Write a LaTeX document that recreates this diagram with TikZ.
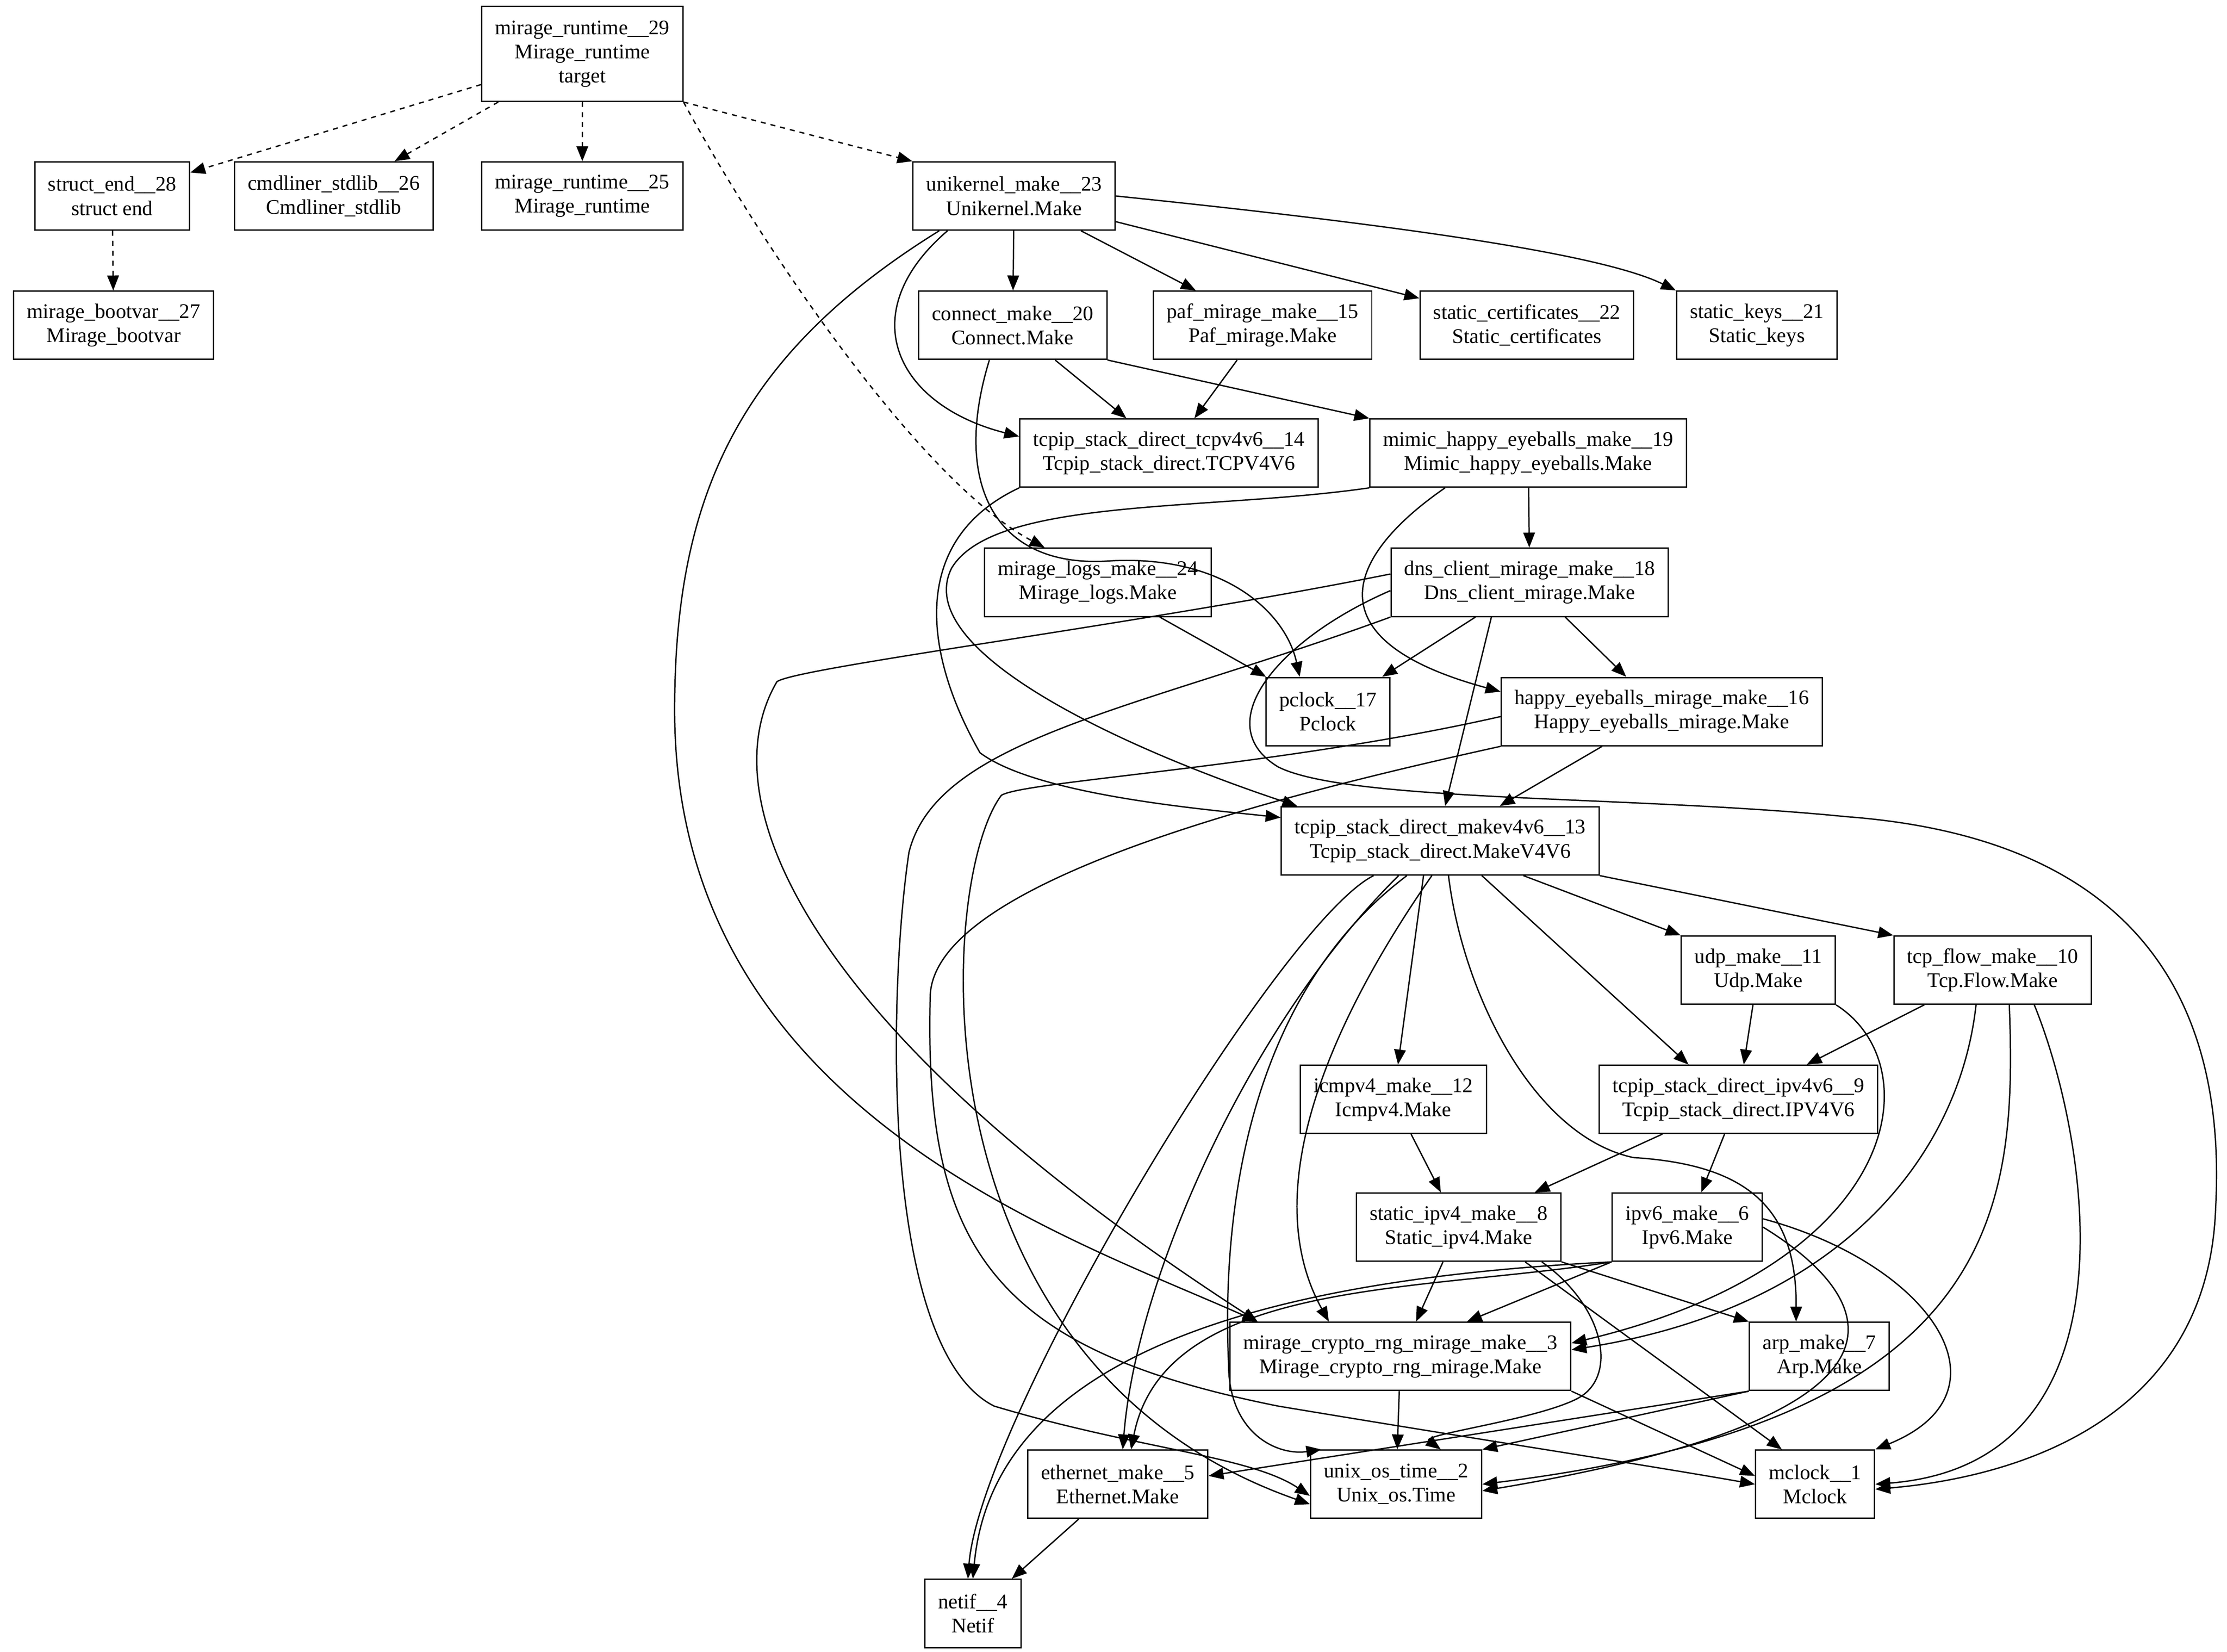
\documentclass[tikz,border=0pt]{standalone}
\usepackage{fontspec}
\setmainfont{Liberation Serif}
\usetikzlibrary{arrows.meta}
\tikzset{
  box/.style={draw, line width=0.8pt, align=center, inner xsep=8pt, minimum height=41pt,
    font=\fontsize{12.5}{14.5}\selectfont},
  dep/.style={line width=0.8pt, -{Triangle[length=9pt,width=7pt]}},
}
\begin{document}
\begin{tikzpicture}[x=0.03cm,y=-0.03cm]
  \useasboundingbox (0,0) rectangle (1568,1163);
  % modules
  \node[box, minimum height=57pt] (mr29) at (410,38) {mirage\_runtime\_\_29\\Mirage\_runtime\\target};
  \node[box] (se28) at (79,138) {struct\_end\_\_28\\struct end};
  \node[box] (cs26) at (235,138) {cmdliner\_stdlib\_\_26\\Cmdliner\_stdlib};
  \node[box] (mr25) at (410,138) {mirage\_runtime\_\_25\\Mirage\_runtime};
  \node[box] (uk23) at (714,138) {unikernel\_make\_\_23\\Unikernel.Make};
  \node[box] (mb27) at (80,229) {mirage\_bootvar\_\_27\\Mirage\_bootvar};
  \node[box] (cm20) at (713,229) {connect\_make\_\_20\\Connect.Make};
  \node[box] (pm15) at (889,229) {paf\_mirage\_make\_\_15\\Paf\_mirage.Make};
  \node[box] (sc22) at (1075,229) {static\_certificates\_\_22\\Static\_certificates};
  \node[box] (sk21) at (1237,229) {static\_keys\_\_21\\Static\_keys};
  \node[box] (tc14) at (823,319) {tcpip\_stack\_direct\_tcpv4v6\_\_14\\Tcpip\_stack\_direct.TCPV4V6};
  \node[box] (mh19) at (1076,319) {mimic\_happy\_eyeballs\_make\_\_19\\Mimic\_happy\_eyeballs.Make};
  \node[box] (ml24) at (773,410) {mirage\_logs\_make\_\_24\\Mirage\_logs.Make};
  \node[box] (dc18) at (1077,410) {dns\_client\_mirage\_make\_\_18\\Dns\_client\_mirage.Make};
  \node[box] (pk17) at (935,501) {pclock\_\_17\\Pclock};
  \node[box] (hb16) at (1170,501) {happy\_eyeballs\_mirage\_make\_\_16\\Happy\_eyeballs\_mirage.Make};
  \node[box] (ts13) at (1014,592) {tcpip\_stack\_direct\_makev4v6\_\_13\\Tcpip\_stack\_direct.MakeV4V6};
  \node[box] (ud11) at (1238,683) {udp\_make\_\_11\\Udp.Make};
  \node[box] (tf10) at (1403,683) {tcp\_flow\_make\_\_10\\Tcp.Flow.Make};
  \node[box] (ic12) at (981,774) {icmpv4\_make\_\_12\\Icmpv4.Make};
  \node[box] (ip9) at (1224,774) {tcpip\_stack\_direct\_ipv4v6\_\_9\\Tcpip\_stack\_direct.IPV4V6};
  \node[box] (sv8) at (1027,864) {static\_ipv4\_make\_\_8\\Static\_ipv4.Make};
  \node[box] (iv6) at (1188,864) {ipv6\_make\_\_6\\Ipv6.Make};
  \node[box] (mc3) at (986,955) {mirage\_crypto\_rng\_mirage\_make\_\_3\\Mirage\_crypto\_rng\_mirage.Make};
  \node[box] (ap7) at (1281,955) {arp\_make\_\_7\\Arp.Make};
  \node[box] (ee5) at (787,1045) {ethernet\_make\_\_5\\Ethernet.Make};
  \node[box] (uo2) at (983,1045) {unix\_os\_time\_\_2\\Unix\_os.Time};
  \node[box] (mk1) at (1278,1045) {mclock\_\_1\\Mclock};
  \node[box] (nf4) at (685,1136) {netif\_\_4\\Netif};

  % runtime
  \draw[dep, dashed] (mr29) -- (se28);
  \draw[dep, dashed] (mr29) -- (cs26);
  \draw[dep, dashed] (mr29) -- (mr25);
  \draw[dep, dashed] (mr29.south east) -- (uk23.north west);
  \draw[dep, dashed] (mr29.south east) .. controls (540,180) and (650,340) .. ([xshift=-32pt]ml24.north);
  \draw[dep, dashed] (se28) -- (mb27);

  % unikernel
  \draw[dep] (uk23) -- (cm20);
  \draw[dep] (uk23) -- (pm15);
  \draw[dep] (uk23) -- (sc22);
  \draw[dep] (uk23.east) .. controls (1000,160) and (1130,180) .. (sk21.north west);
  \draw[dep] ([xshift=-40pt]uk23.south) .. controls (600,220) and (630,285) .. ([yshift=10pt]tc14.west);
  \draw[dep] ([xshift=-45pt]uk23.south) .. controls (520,250) and (475,350) .. (475,500)
    .. controls (475,780) and (750,870) .. ([xshift=17pt]mc3.north west);

  % connect
  \draw[dep] (cm20) -- (tc14);
  \draw[dep] (cm20.south east) -- (mh19.north west);
  \draw[dep] ([xshift=-14pt]cm20.south) .. controls (670,340) and (700,400) .. (780,395)
    .. controls (860,390) and (905,430) .. ([xshift=-17pt]pk17.north);
  \draw[dep] (pm15) -- (tc14);
  \draw[dep] (tc14.south west) .. controls (640,380) and (650,460) .. (690,530)
    .. controls (730,560) and (850,570) .. ([yshift=14pt]ts13.west);
  \draw[dep] (mh19.south west) .. controls (850,360) and (700,350) .. (670,400)
    .. controls (640,460) and (800,530) .. ([xshift=10pt]ts13.north west);
  \draw[dep] (mh19) -- (dc18);
  \draw[dep] ([xshift=-50pt]mh19.south) .. controls (950,390) and (920,450) .. ([yshift=12pt]hb16.west);
  \draw[dep] (ml24) -- (pk17);

  % dns client
  \draw[dep] (dc18) -- (pk17);
  \draw[dep] (dc18) -- (hb16);
  \draw[dep] ([xshift=-23pt]dc18.south) -- ([xshift=3pt]ts13.north);
  \draw[dep] ([yshift=-5pt]dc18.west) .. controls (900,450) and (850,510) .. (900,540)
    .. controls (950,565) and (1150,560) .. (1300,575)
    .. controls (1500,590) and (1568,700) .. (1560,850)
    .. controls (1555,1000) and (1420,1040) .. ([yshift=-3pt]mk1.east);
  \draw[dep] ([yshift=5pt]dc18.west) .. controls (800,440) and (560,470) .. (547,480)
    .. controls (500,560) and (560,720) .. ([xshift=17pt]mc3.north west);
  \draw[dep] (dc18.south west) .. controls (800,500) and (660,520) .. (640,600)
    .. controls (625,700) and (620,950) .. (700,990)
    .. controls (800,1020) and (880,1025) .. ([yshift=-7pt]uo2.west);

  % happy eyeballs
  \draw[dep] (hb16) -- (ts13);
  \draw[dep] ([yshift=-3pt]hb16.west) .. controls (900,540) and (720,550) .. (705,560)
    .. controls (660,620) and (640,960) .. ([yshift=-12pt]uo2.west);
  \draw[dep] (hb16.south west) .. controls (900,560) and (660,620) .. (655,700)
    .. controls (650,880) and (700,950) .. (900,990)
    .. controls (1050,1015) and (1150,1030) .. (mk1.west);

  % tcpip stack
  \draw[dep] ([xshift=-10pt]ts13.south) -- (ic12);
  \draw[dep] ([xshift=50pt]ts13.south) -- (ud11.north west);
  \draw[dep] (ts13.south east) -- (tf10.north west);
  \draw[dep] ([xshift=25pt]ts13.south) -- ([xshift=-30pt]ip9.north);
  \draw[dep] ([xshift=5pt]ts13.south) .. controls (1030,700) and (1080,800) .. (1150,815)
    .. controls (1230,820) and (1265,850) .. ([xshift=-14pt]ap7.north);
  \draw[dep] ([xshift=-5pt]ts13.south) .. controls (950,700) and (880,830) .. ([xshift=-43pt]mc3.north);
  \draw[dep] ([xshift=-20pt]ts13.south) .. controls (880,700) and (860,850) .. (865,960)
    .. controls (865,1010) and (900,1025) .. ([xshift=-45pt]uo2.north);
  \draw[dep] ([xshift=-25pt]ts13.south) .. controls (880,720) and (800,900) .. ([xshift=3pt]ee5.north);
  \draw[dep] ([xshift=-40pt]ts13.south) .. controls (900,650) and (690,1000) .. ([xshift=-3pt]nf4.north);

  % udp, tcp
  \draw[dep] (ud11) -- (ip9);
  \draw[dep] (tf10) -- (ip9);
  \draw[dep] (ud11.south east) .. controls (1360,750) and (1340,890) .. ([yshift=8pt]mc3.east);
  \draw[dep] ([xshift=-10pt]tf10.south) .. controls (1380,810) and (1300,920) .. ([yshift=4pt]mc3.east);
  \draw[dep] ([xshift=10pt]tf10.south) .. controls (1420,850) and (1410,1000) .. (uo2.east);
  \draw[dep] ([xshift=25pt]tf10.south) .. controls (1470,800) and (1510,1030) .. (mk1.east);

  % ip layer
  \draw[dep] (ic12) -- (sv8);
  \draw[dep] (ip9) -- (sv8);
  \draw[dep] (ip9) -- (iv6);
  \draw[dep] (sv8) -- (mc3);
  \draw[dep] (sv8.south east) -- (ap7.north west);
  \draw[dep] ([xshift=40pt]sv8.south) -- ([xshift=-20pt]mk1.north);
  \draw[dep] ([xshift=50pt]sv8.south) .. controls (1130,920) and (1140,970) .. (1110,985)
    .. controls (1080,1000) and (1000,1010) .. ([xshift=-25pt]uo2.north east);
  \draw[dep] (iv6.south west) -- ([xshift=40pt]mc3.north);
  \draw[dep] (iv6.south west) .. controls (1000,910) and (820,900) .. ([xshift=8pt]ee5.north);
  \draw[dep] (iv6.south west) .. controls (900,900) and (700,950) .. (nf4.north);
  \draw[dep] (iv6.east) .. controls (1300,900) and (1400,990) .. ([yshift=-4pt]uo2.east);
  \draw[dep] ([yshift=5pt]iv6.east) .. controls (1360,890) and (1420,980) .. (mk1.north east);

  % leaves
  \draw[dep] (mc3) -- (uo2);
  \draw[dep] (mc3.south east) -- ([yshift=5pt]mk1.west);
  \draw[dep] (ap7.south west) -- (uo2.north east);
  \draw[dep] (ap7.south west) -- ([yshift=5pt]ee5.east);
  \draw[dep] (ee5) -- (nf4);
\end{tikzpicture}
\end{document}
